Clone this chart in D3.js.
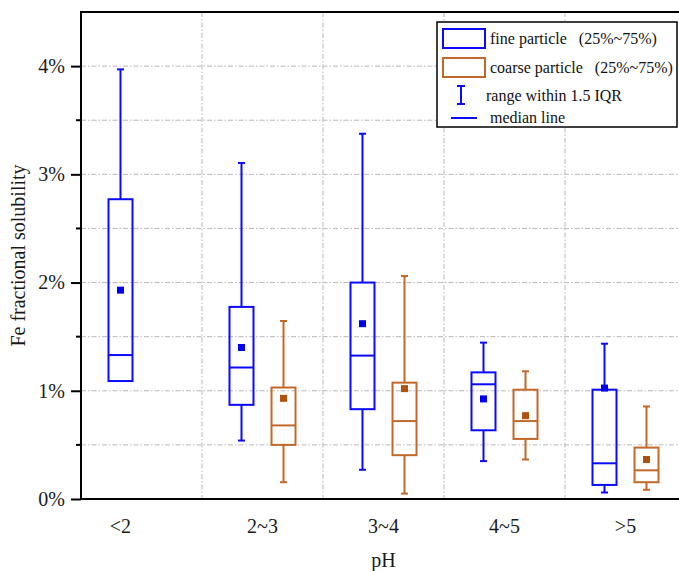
<!DOCTYPE html>
<html>
<head>
<meta charset="utf-8">
<script src="https://cdn.jsdelivr.net/npm/d3@7"></script>
<style>
  body { margin: 0; background: #fff; }
  svg { display: block; }
  svg text { font-family: "Liberation Serif", "Times New Roman", serif; }
</style>
</head>
<body>
<div id="chart"></div>
<script>
// pH bins
var categories = ["<2", "2~3", "3~4", "4~5", ">5"];

// fine particle, Fe fractional solubility (%)
var fineLow    = [1.09, 0.54, 0.27, 0.35, 0.06];
var fineQ1     = [1.09, 0.87, 0.83, 0.635, 0.13];
var fineMedian = [1.33, 1.215, 1.325, 1.06, 0.33];
var fineQ3     = [2.77, 1.775, 2.0, 1.17, 1.01];
var fineHigh   = [3.97, 3.105, 3.375, 1.445, 1.435];
var fineMean   = [1.93, 1.40, 1.62, 0.925, 1.025];

// coarse particle (no data for pH < 2)
var coarseLow    = [null, 0.155, 0.05, 0.365, 0.085];
var coarseQ1     = [null, 0.50, 0.405, 0.555, 0.155];
var coarseMedian = [null, 0.68, 0.72, 0.72, 0.265];
var coarseQ3     = [null, 1.03, 1.075, 1.01, 0.475];
var coarseHigh   = [null, 1.645, 2.06, 1.18, 0.855];
var coarseMean   = [null, 0.93, 1.02, 0.77, 0.365];

var yTicks = [0, 1, 2, 3, 4];
var yMinorTicks = [0.5, 1.5, 2.5, 3.5];

var width = 679, height = 571;
var plotLeft = 81, plotRight = 686, plotTop = 12, plotBottom = 499;

var svg = d3.select('#chart').append('svg')
  .attr('width', width)
  .attr('height', height);

var x = d3.scaleBand().domain(categories).range([plotLeft, plotRight]).padding(0);
var xs = d3.scalePoint().domain(["fine", "coarse"]).range([0, x.bandwidth()]).padding(0.94);
var y = d3.scaleLinear().domain([0, 4.5]).range([plotBottom, plotTop]);

var colors = { fine: "#0a0aff", coarse: "#c2692a" };
var markColors = { fine: "#0000ee", coarse: "#b0520f" };

// build box records from the arrays
var boxes = [];
categories.forEach(function(c, i) {
  boxes.push({cat: c, s: "fine", low: fineLow[i], q1: fineQ1[i], med: fineMedian[i], q3: fineQ3[i], high: fineHigh[i], mean: fineMean[i]});
  if (coarseQ1[i] != null)
    boxes.push({cat: c, s: "coarse", low: coarseLow[i], q1: coarseQ1[i], med: coarseMedian[i], q3: coarseQ3[i], high: coarseHigh[i], mean: coarseMean[i]});
});
function bx(d) { return x(d.cat) + xs(d.s); }

// grid
var grid = svg.append('g').attr('stroke', '#b8b8b8').attr('stroke-width', 1)
  .attr('stroke-dasharray', '5,2,1.5,2');
grid.selectAll('line.h')
  .data(d3.range(1, 9).map(function(k) { return k * 0.5; }))
  .enter().append('line')
  .attr('x1', plotLeft).attr('x2', plotRight)
  .attr('y1', function(d) { return y(d); }).attr('y2', function(d) { return y(d); });
grid.selectAll('line.v')
  .data(categories.slice(1))
  .enter().append('line')
  .attr('x1', function(d) { return x(d); }).attr('x2', function(d) { return x(d); })
  .attr('y1', plotTop).attr('y2', plotBottom);

// boxes
var bw = 24, cap = 7;
var g = svg.selectAll('g.box').data(boxes).enter().append('g')
  .attr('class', 'box')
  .attr('stroke', function(d) { return colors[d.s]; })
  .attr('stroke-width', 2)
  .attr('fill', 'none');

g.filter(function(d) { return d.high > d.q3; }).append('line')
  .attr('x1', bx).attr('x2', bx)
  .attr('y1', function(d) { return y(d.q3); }).attr('y2', function(d) { return y(d.high); });
g.filter(function(d) { return d.high > d.q3; }).append('line')
  .attr('x1', function(d) { return bx(d) - cap / 2; }).attr('x2', function(d) { return bx(d) + cap / 2; })
  .attr('y1', function(d) { return y(d.high); }).attr('y2', function(d) { return y(d.high); });
g.filter(function(d) { return d.low < d.q1; }).append('line')
  .attr('x1', bx).attr('x2', bx)
  .attr('y1', function(d) { return y(d.q1); }).attr('y2', function(d) { return y(d.low); });
g.filter(function(d) { return d.low < d.q1; }).append('line')
  .attr('x1', function(d) { return bx(d) - cap / 2; }).attr('x2', function(d) { return bx(d) + cap / 2; })
  .attr('y1', function(d) { return y(d.low); }).attr('y2', function(d) { return y(d.low); });

g.append('rect')
  .attr('x', function(d) { return bx(d) - bw / 2; })
  .attr('width', bw)
  .attr('y', function(d) { return y(d.q3); })
  .attr('height', function(d) { return y(d.q1) - y(d.q3); })
  .attr('fill', 'none');
g.append('line')
  .attr('x1', function(d) { return bx(d) - bw / 2; }).attr('x2', function(d) { return bx(d) + bw / 2; })
  .attr('y1', function(d) { return y(d.med); }).attr('y2', function(d) { return y(d.med); });
g.append('rect')
  .attr('stroke', 'none')
  .attr('fill', function(d) { return markColors[d.s]; })
  .attr('x', function(d) { return bx(d) - 3.5; })
  .attr('y', function(d) { return y(d.mean) - 3.5; })
  .attr('width', 7).attr('height', 7);

// axes
var yAxis = svg.append('g').attr('transform', 'translate(' + plotLeft + ',0)')
  .call(d3.axisLeft(y).tickValues(yTicks).tickSize(10).tickPadding(6).tickFormat(function(d) { return d + '%'; }));
yAxis.attr('font-family', null);
yAxis.select('.domain').remove();
yAxis.selectAll('line').attr('stroke-width', 2).attr('stroke', '#000');
yAxis.selectAll('text').attr('font-size', 20).attr('fill', '#1a1a1a')
  .style('font-family', '"Liberation Serif", serif');
svg.append('g').attr('transform', 'translate(' + plotLeft + ',0)')
  .selectAll('line').data(yMinorTicks)
  .enter().append('line')
  .attr('x1', -5).attr('x2', 0)
  .attr('y1', function(d) { return y(d); }).attr('y2', function(d) { return y(d); })
  .attr('stroke', '#000').attr('stroke-width', 2);

svg.append('line').attr('x1', plotLeft).attr('x2', plotLeft).attr('y1', plotTop - 1).attr('y2', plotBottom + 1)
  .attr('stroke', '#000').attr('stroke-width', 2);
svg.append('line').attr('x1', plotLeft - 1).attr('x2', plotRight).attr('y1', plotBottom).attr('y2', plotBottom)
  .attr('stroke', '#000').attr('stroke-width', 2);
svg.append('line').attr('x1', plotLeft - 1).attr('x2', plotRight).attr('y1', plotTop).attr('y2', plotTop)
  .attr('stroke', '#000').attr('stroke-width', 2);

// category labels, centred under the boxes that exist
svg.selectAll('text.cat').data(categories).enter().append('text')
  .attr('class', 'cat')
  .attr('x', function(c) { return d3.mean(boxes.filter(function(b) { return b.cat === c; }), bx); })
  .attr('y', 533)
  .attr('text-anchor', 'middle')
  .attr('font-size', 20).attr('fill', '#1a1a1a')
  .text(function(d) { return d; });

svg.append('text')
  .attr('x', (plotLeft + plotRight) / 2).attr('y', 567)
  .attr('text-anchor', 'middle').attr('font-size', 20).attr('fill', '#1a1a1a')
  .text('pH');
svg.append('text')
  .attr('transform', 'translate(25,' + ((plotTop + plotBottom) / 2) + ') rotate(-90)')
  .attr('text-anchor', 'middle').attr('font-size', 20).attr('fill', '#1a1a1a')
  .text('Fe fractional solubility');

// legend
var lg = svg.append('g');
lg.append('rect').attr('x', 437).attr('y', 22).attr('width', 240).attr('height', 105)
  .attr('fill', '#fff').attr('stroke', '#000').attr('stroke-width', 1.5);
lg.append('rect').attr('x', 443).attr('y', 29).attr('width', 42).attr('height', 19)
  .attr('fill', 'none').attr('stroke', colors.fine).attr('stroke-width', 2);
lg.append('rect').attr('x', 443).attr('y', 58).attr('width', 42).attr('height', 19)
  .attr('fill', 'none').attr('stroke', colors.coarse).attr('stroke-width', 2);
lg.append('line').attr('x1', 461).attr('x2', 461).attr('y1', 86).attr('y2', 104)
  .attr('stroke', colors.fine).attr('stroke-width', 2);
lg.append('line').attr('x1', 457).attr('x2', 465).attr('y1', 86).attr('y2', 86)
  .attr('stroke', colors.fine).attr('stroke-width', 2);
lg.append('line').attr('x1', 457).attr('x2', 465).attr('y1', 104).attr('y2', 104)
  .attr('stroke', colors.fine).attr('stroke-width', 2);
lg.append('line').attr('x1', 451).attr('x2', 477).attr('y1', 118).attr('y2', 118)
  .attr('stroke', colors.fine).attr('stroke-width', 2);

var legendText = [
  {t: 'fine particle   (25%~75%)', x: 490, y: 44},
  {t: 'coarse particle   (25%~75%)', x: 490, y: 73},
  {t: 'range within 1.5 IQR', x: 486, y: 101},
  {t: 'median line', x: 490, y: 123}
];
lg.selectAll('text').data(legendText).enter().append('text')
  .attr('x', function(d) { return d.x; }).attr('y', function(d) { return d.y; })
  .attr('font-size', 16).attr('fill', '#111')
  .style('white-space', 'pre')
  .text(function(d) { return d.t; });
</script>
</body>
</html>
